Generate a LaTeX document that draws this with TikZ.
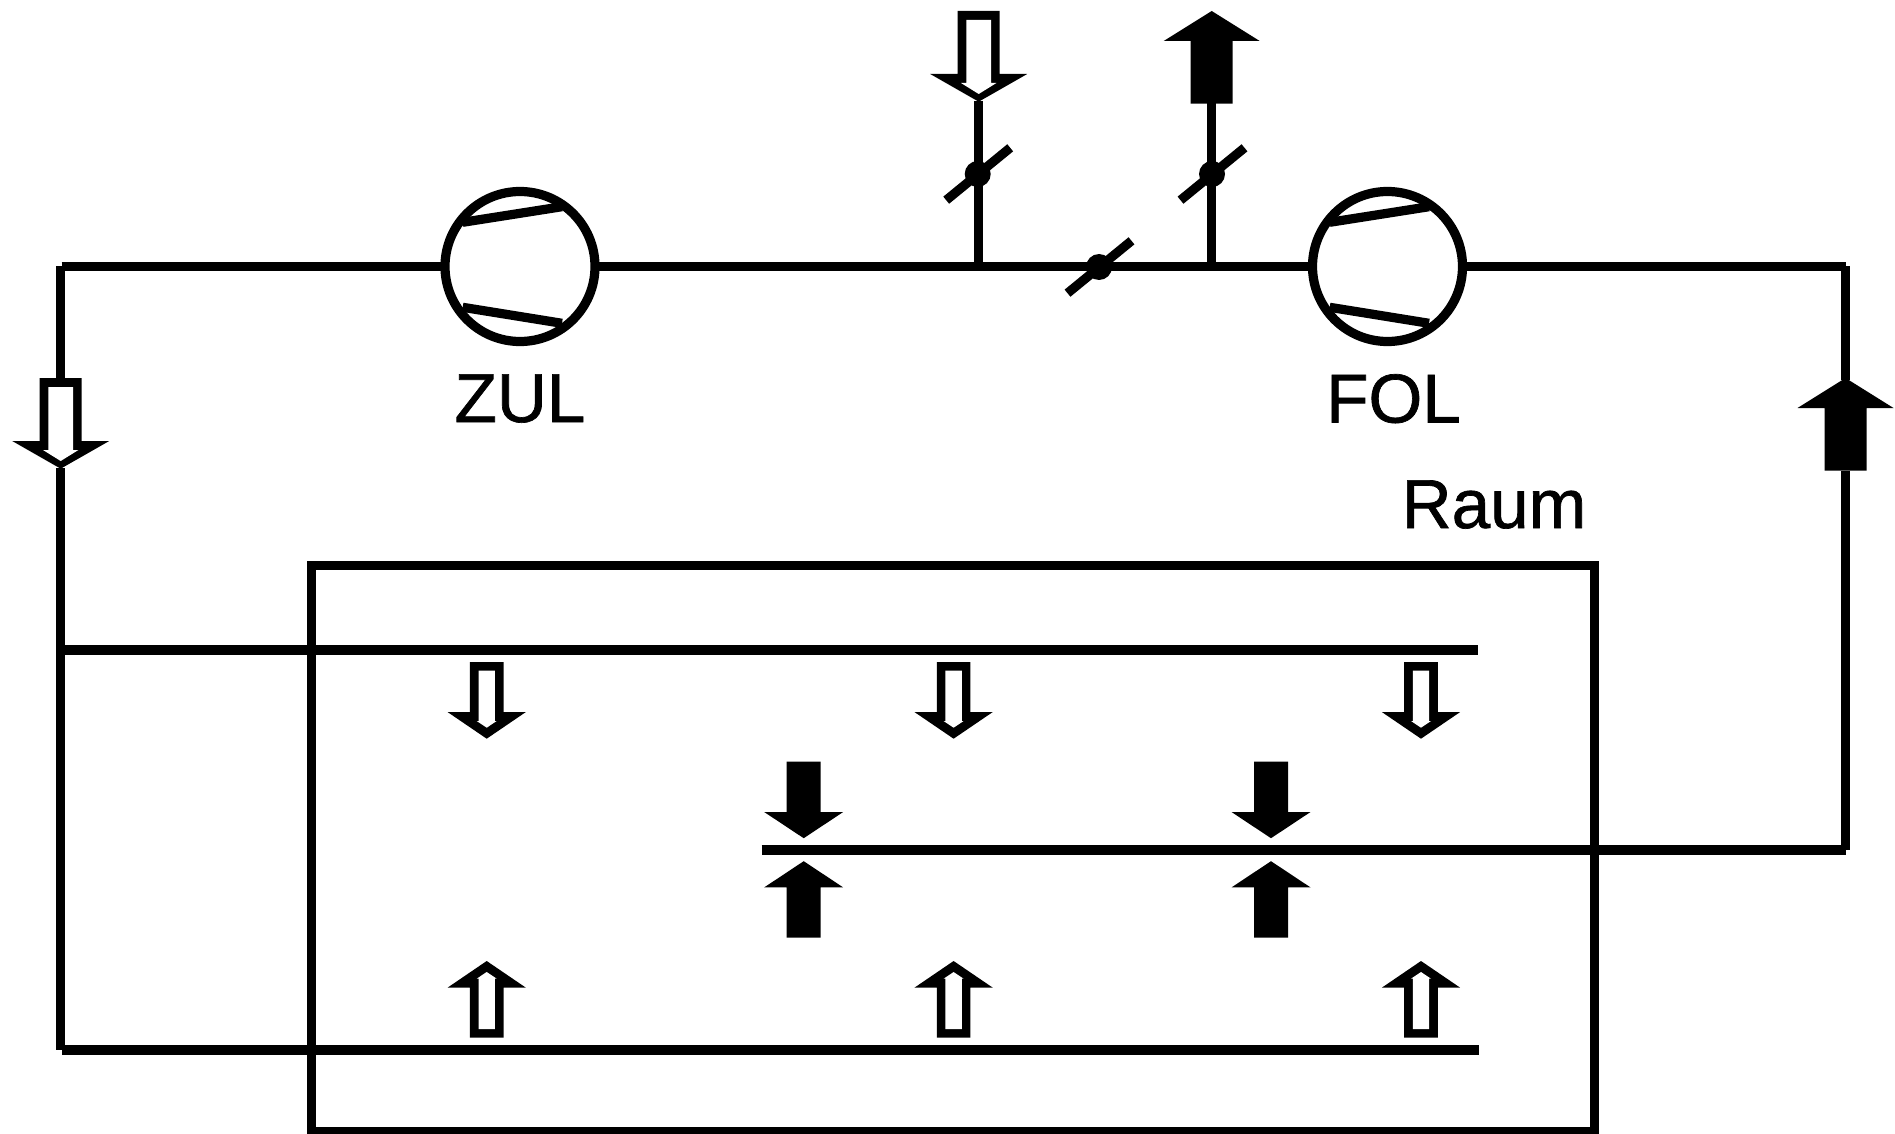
\documentclass[tikz,border=0pt]{standalone}
\usepackage{fontspec}
\setmainfont{Liberation Sans}
\tikzset{
  duct/.style={line width=4.6pt,draw=black,line cap=butt},
  fanbody/.style={circle,draw=black,line width=4.6pt,minimum size=75pt,inner sep=0pt,outer sep=0pt},
  lbl/.style={inner sep=0pt,anchor=base,font=\fontsize{34.6}{40}\selectfont\addfontfeature{FakeBold=1}},
  bighollow/.pic={
    \fill[black] (-21,0)--(21,0)--(21,63)--(48.5,63)--(0,90.7)--(-48.5,63)--(-21,63)--cycle;
    \fill[white] (-12.3,9)--(12.3,9)--(12.3,72)--(17.7,72)--(0,83)--(-17.7,72)--(-12.3,72)--cycle;
  },
  smallhollow/.pic={
    \fill[black] (-16.8,0)--(16.8,0)--(16.8,50)--(39.2,50)--(0,76.7)--(-39.2,50)--(-16.8,50)--cycle;
    \fill[white] (-8.2,8.7)--(8.2,8.7)--(8.2,59)--(10,59)--(0,65.7)--(-10,59)--(-8.2,59)--cycle;
  },
  bigsolid/.pic={
    \fill[black] (-21,0)--(21,0)--(21,62.7)--(48,62.7)--(0,92.7)--(-48,62.7)--(-21,62.7)--cycle;
  },
  smallsolid/.pic={
    \fill[black] (-17,0)--(17,0)--(17,50.3)--(39.5,50.3)--(0,76.5)--(-39.5,50.3)--(-17,50.3)--cycle;
  },
  damper/.pic={
    \fill[black] (0,0) circle (13);
    \draw[duct] (-31.5,26.2)--(32.5,-26.2);
  },
}
\begin{document}
\begin{tikzpicture}[x=0.5pt,y=-0.5pt]
\useasboundingbox (0,0) rectangle (1895,1134);
% fans
\node[fanbody] (zul) at (520,266.5) {};
\node[fanbody] (fol) at (1387.5,266.5) {};
\draw[duct] (462.7,222.3)--(562,206.7) (462.7,307.3)--(562,323.3);
\draw[duct] (1329.7,222.3)--(1429,206.7) (1329.7,307.3)--(1429,323.3);
% named ends
\coordinate (tl) at (61.5,266.5);
\coordinate (tr) at (1845.9,266.5);
\coordinate (vl) at (60.7,266.5);
\coordinate (vr) at (1845.5,266.5);
\coordinate (la) at (60.7,378);
\coordinate (lb) at (60.7,468);
\coordinate (ra) at (1845.5,380);
\coordinate (rb) at (1845.5,470.7);
\coordinate (blc) at (60.7,1050);
\coordinate (brc) at (1845.5,850);
\coordinate (sup1) at (61.5,650);
\coordinate (sup2) at (1478,650);
\coordinate (bot1) at (61.5,1050);
\coordinate (bot2) at (1479,1050);
\coordinate (mid1) at (761.7,850);
\coordinate (mid2) at (1845.9,850);
\coordinate (oa) at (978.7,101);
\coordinate (ob) at (978.7,266.5);
\coordinate (ea) at (1211.7,103);
\coordinate (eb) at (1211.7,266.5);
% ducts
\draw[duct] (tl)--(zul.west);
\draw[duct] (zul.east)--(fol.west);
\draw[duct] (fol.east)--(tr);
\draw[duct] (vl)--(la);
\draw[duct] (lb)--(blc);
\draw[duct] (vr)--(ra);
\draw[duct] (rb)--(brc);
\draw[duct] (sup1)--(sup2);
\draw[duct] (bot1)--(bot2);
\draw[duct] (mid1)--(mid2);
\draw[duct] (oa)--(ob);
\draw[duct] (ea)--(eb);
% room
\draw[duct] (311.2,565.3) rectangle (1594.8,1132);
% dampers
\pic at (977.7,174) {damper};
\pic at (1212,174) {damper};
\pic at (1099,267) {damper};
% big arrows
\pic at (978.7,11) {bighollow};
\pic at (60.7,378) {bighollow};
\pic[yscale=-1] at (1211.7,103.7) {bigsolid};
\pic[yscale=-1] at (1845.5,470.7) {bigsolid};
% small arrows
\foreach \cx in {486.7,953.6,1421}{
  \pic at (\cx,662) {smallhollow};
  \pic[yscale=-1] at (\cx,1037.7) {smallhollow};
}
\foreach \cx in {803.7,1271}{
  \pic at (\cx,761.7) {smallsolid};
  \pic[yscale=-1] at (\cx,937.7) {smallsolid};
}
% labels
\node[lbl] (zultext) at (520,422) {ZUL};
\node[lbl] (foltext) at (1393.5,422.5) {FOL};
\node[lbl] (raumtext) at (1494,528) {Raum};
\end{tikzpicture}
\end{document}
